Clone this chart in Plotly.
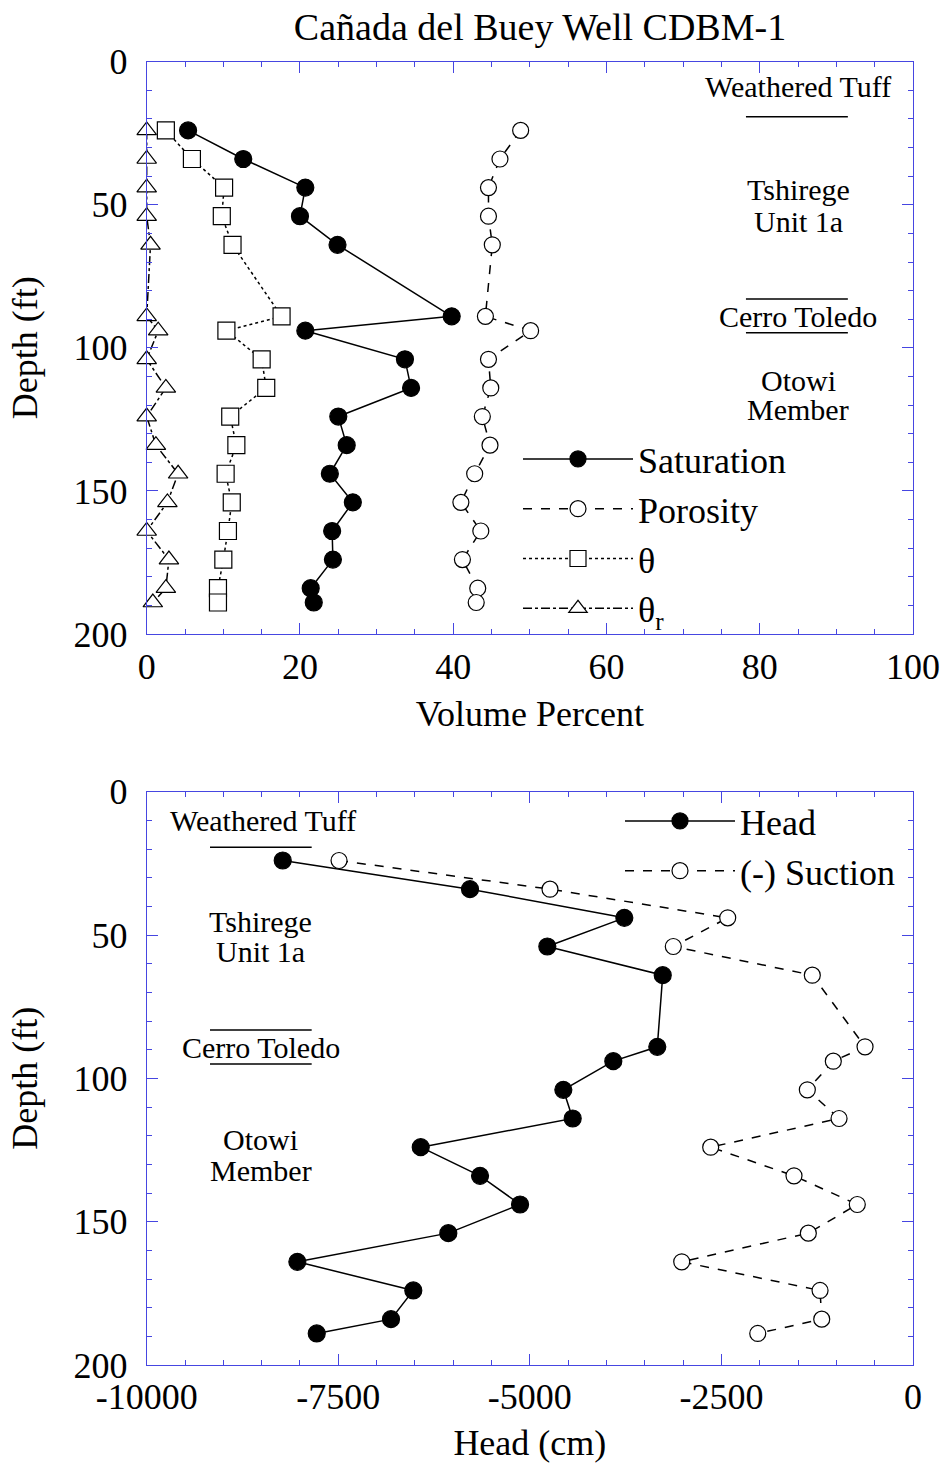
import plotly.graph_objects as go

# ---------------- data ----------------
depth_ft = [24, 34, 44, 54, 64, 89, 94, 104, 114, 124, 134, 144, 154, 164, 174, 184, 189]
saturation = [5.4, 12.6, 20.7, 20.0, 24.9, 39.8, 20.7, 33.7, 34.5, 25.0, 26.1, 23.9, 26.9, 24.2, 24.3, 21.4, 21.8]
porosity = [48.8, 46.1, 44.6, 44.6, 45.1, 44.2, 50.1, 44.6, 44.9, 43.8, 44.8, 42.8, 41.0, 43.6, 41.2, 43.2, 43.0]
theta = [2.5, 5.9, 10.1, 9.8, 11.2, 17.6, 10.4, 15.0, 15.6, 10.9, 11.7, 10.3, 11.1, 10.6, 10.0, 9.3, 9.3]
theta_r = [0.0, 0.0, 0.0, 0.0, 0.5, 0.0, 1.5, 0.0, 2.5, 0.0, 1.2, 4.1, 2.7, 0.0, 2.9, 2.5, 0.8]
head_cm = [-8225, -5781, -3767, -4772, -3266, -3337, -3911, -4563, -4441, -6424, -5650, -5128, -6064, -8034, -6521, -6812, -7781]
suction_cm = [-7490, -4737, -2418, -3128, -1314, -626, -1040, -1379, -965, -2640, -1553, -727, -1366, -3018, -1213, -1191, -2026]

vol_tick_vals = [0, 20, 40, 60, 80, 100]
vol_tick_text = ["0", "20", "40", "60", "80", "100"]
depth_tick_vals = [0, 50, 100, 150, 200]
depth_tick_text = ["0", "50", "100", "150", "200"]
head_tick_vals = [-10000, -7500, -5000, -2500, 0]
head_tick_text = ["-10000", "-7500", "-5000", "-2500", "0"]

# ---------------- style ----------------
FONT = "Liberation Serif"
BLUE = "rgb(70,70,225)"
W, H = 946, 1464

fig = go.Figure()

def mk(sym, fill, size):
    return dict(symbol=sym, size=size, color=fill, line=dict(color="black", width=1.2))

fig.add_trace(go.Scatter(x=saturation, y=depth_ft, name="Saturation", mode="lines+markers",
                         line=dict(color="black", width=1.5), marker=mk("circle", "black", 17),
                         xaxis="x", yaxis="y", legend="legend", cliponaxis=False))
fig.add_trace(go.Scatter(x=porosity, y=depth_ft, name="Porosity", mode="lines+markers",
                         line=dict(color="black", width=1.5, dash="dash"), marker=mk("circle", "white", 16),
                         xaxis="x", yaxis="y", legend="legend", cliponaxis=False))
fig.add_trace(go.Scatter(x=theta, y=depth_ft, name="θ", mode="lines+markers",
                         line=dict(color="black", width=1.5, dash="dot"), marker=mk("square", "white", 17),
                         xaxis="x", yaxis="y", legend="legend", cliponaxis=False))
fig.add_trace(go.Scatter(x=theta_r, y=depth_ft, name="θ<sub>r</sub>", mode="lines+markers",
                         line=dict(color="black", width=1.5, dash="dashdot"), marker=mk("triangle-up", "white", 17),
                         xaxis="x", yaxis="y", legend="legend", cliponaxis=False))

fig.add_trace(go.Scatter(x=head_cm, y=depth_ft, name="Head", mode="lines+markers",
                         line=dict(color="black", width=1.5), marker=mk("circle", "black", 17),
                         xaxis="x2", yaxis="y2", legend="legend2", cliponaxis=False))
fig.add_trace(go.Scatter(x=suction_cm, y=depth_ft, name="(-) Suction", mode="lines+markers",
                         line=dict(color="black", width=1.5, dash="dash"), marker=mk("circle", "white", 16),
                         xaxis="x2", yaxis="y2", legend="legend2", cliponaxis=False))

tickfont = dict(family=FONT, size=36, color="black")
titlefont = dict(family=FONT, size=36, color="black")

def axis(**kw):
    d = dict(showline=True, linecolor=BLUE, linewidth=1, mirror="allticks",
             ticks="inside", tickcolor=BLUE, tickwidth=1, ticklen=11,
             showgrid=False, zeroline=False, tickfont=tickfont, automargin=False)
    d.update(kw)
    return d

xdom = [146.7 / W, 913 / W]
top_dom = [(H - 634) / H, (H - 61.7) / H]
bot_dom = [(H - 1365) / H, (H - 791.7) / H]

fig.update_layout(
    width=W, height=H, paper_bgcolor="white", plot_bgcolor="white",
    margin=dict(l=0, r=0, t=0, b=0, autoexpand=False),
    title=dict(text="Cañada del Buey Well CDBM-1", x=540 / W, xanchor="center",
               y=1 - 27 / H, yanchor="middle", yref="container", automargin=False,
               font=dict(family=FONT, size=38, color="black")),
    xaxis=axis(domain=xdom, anchor="y", range=[0, 100], tickmode="array",
               tickvals=vol_tick_vals, ticktext=vol_tick_text, ticklabelstandoff=1,
               minor=dict(ticks="inside", ticklen=5, tickcolor=BLUE, tick0=0, dtick=5, showgrid=False),
               title=dict(text="Volume Percent", font=titlefont, standoff=14)),
    yaxis=axis(domain=top_dom, anchor="x", range=[200, 0], tickmode="array",
               tickvals=depth_tick_vals, ticktext=depth_tick_text, ticklabelstandoff=11,
               minor=dict(ticks="inside", ticklen=5, tickcolor=BLUE, tick0=0, dtick=10, showgrid=False),
               title=dict(text="Depth (ft)", font=titlefont, standoff=24)),
    xaxis2=axis(domain=xdom, anchor="y2", range=[-10000, 0], tickmode="array",
                tickvals=head_tick_vals, ticktext=head_tick_text, ticklabelstandoff=0,
                minor=dict(ticks="inside", ticklen=5, tickcolor=BLUE, tick0=0, dtick=500, showgrid=False),
                title=dict(text="Head (cm)", font=titlefont, standoff=13)),
    yaxis2=axis(domain=bot_dom, anchor="x2", range=[200, 0], tickmode="array",
                tickvals=depth_tick_vals, ticktext=depth_tick_text, ticklabelstandoff=11,
                minor=dict(ticks="inside", ticklen=5, tickcolor=BLUE, tick0=0, dtick=10, showgrid=False),
                title=dict(text="Depth (ft)", font=titlefont, standoff=24)),
    legend=dict(x=518 / W, y=(H - 429) / H, xanchor="left", yanchor="top",
                bgcolor="rgba(0,0,0,0)", itemwidth=110,
                font=dict(family=FONT, size=36, color="black")),
    legend2=dict(x=620 / W, y=(H - 791) / H, xanchor="left", yanchor="top",
                 bgcolor="rgba(0,0,0,0)", itemwidth=110,
                 font=dict(family=FONT, size=36, color="black")),
    showlegend=True,
)

# ---------------- unit labels and boundary lines ----------------
def label(text, x, y, xref, yref):
    fig.add_annotation(text=text, x=x, y=y, xref=xref, yref=yref, showarrow=False,
                       xanchor="center", yanchor="middle",
                       font=dict(family=FONT, size=30, color="black"))

top_labels = [("Weathered Tuff", 85, 8.8), ("Tshirege", 85, 44.8), ("Unit 1a", 85, 56),
              ("Cerro Toledo", 85, 88.9), ("Otowi", 85, 111.5), ("Member", 85, 121.7)]
for t, x, y in top_labels:
    label(t, x, y, "x", "y")
bot_labels = [("Weathered Tuff", -8480, 9.9), ("Tshirege", -8510, 45.3), ("Unit 1a", -8510, 55.7),
              ("Cerro Toledo", -8510, 89.4), ("Otowi", -8510, 121.5), ("Member", -8510, 132)]
for t, x, y in bot_labels:
    label(t, x, y, "x2", "y2")

for yv in [19.2, 82.9, 94.7]:
    fig.add_shape(type="line", x0=78.2, x1=91.5, y0=yv, y1=yv, xref="x", yref="y",
                  line=dict(color="black", width=1.5))
for yv in [19.4, 83.1, 95.0]:
    fig.add_shape(type="line", x0=-9174, x1=-7847, y0=yv, y1=yv, xref="x2", yref="y2",
                  line=dict(color="black", width=1.5))

# remove the browser's default page margin so the figure starts at the window corner
fig.write_html("out.html", config={"displayModeBar": False},
               post_script="document.body.style.margin='0';document.body.style.overflow='hidden';")
